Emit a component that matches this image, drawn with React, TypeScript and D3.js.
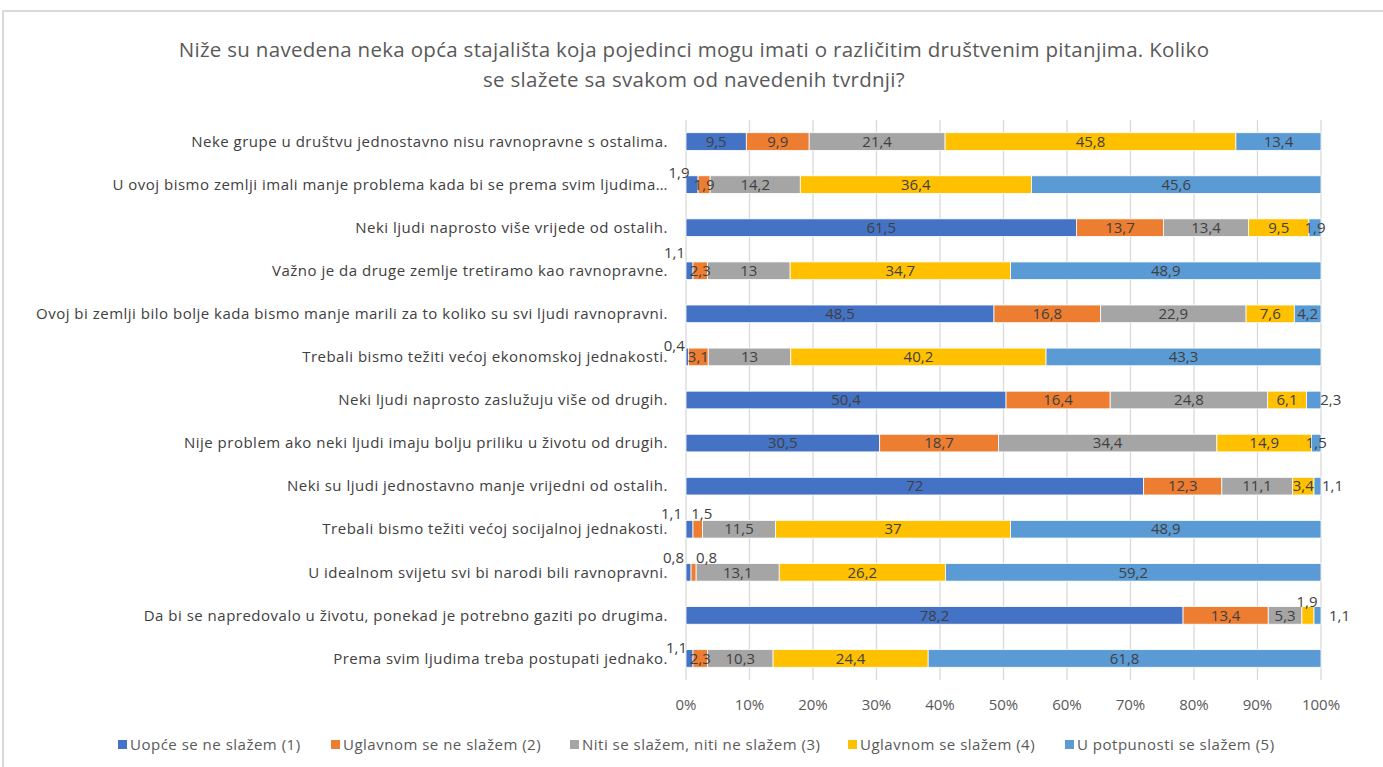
import React from "react";
import * as d3 from "d3";

const title1 = "Niže su navedena neka opća stajališta koja pojedinci mogu imati o različitim društvenim pitanjima. Koliko";
const title2 = "se slažete sa svakom od navedenih tvrdnji?";

const categories = [
  "Neke grupe u društvu jednostavno nisu ravnopravne s ostalima.",
  "U ovoj bismo zemlji imali manje problema kada bi se prema svim ljudima…",
  "Neki ljudi naprosto više vrijede od ostalih.",
  "Važno je da druge zemlje tretiramo kao ravnopravne.",
  "Ovoj bi zemlji bilo bolje kada bismo manje marili za to koliko su svi ljudi ravnopravni.",
  "Trebali bismo težiti većoj ekonomskoj jednakosti.",
  "Neki ljudi naprosto zaslužuju više od drugih.",
  "Nije problem ako neki ljudi imaju bolju priliku u životu od drugih.",
  "Neki su ljudi jednostavno manje vrijedni od ostalih.",
  "Trebali bismo težiti većoj socijalnoj jednakosti.",
  "U idealnom svijetu svi bi narodi bili ravnopravni.",
  "Da bi se napredovalo u životu, ponekad je potrebno gaziti po drugima.",
  "Prema svim ljudima treba postupati jednako.",
];

const seriesNames = [
  "Uopće se ne slažem (1)",
  "Uglavnom se ne slažem (2)",
  "Niti se slažem, niti ne slažem (3)",
  "Uglavnom se slažem (4)",
  "U potpunosti se slažem (5)",
];

const s1 = [9.5, 1.9, 61.5, 1.1, 48.5, 0.4, 50.4, 30.5, 72, 1.1, 0.8, 78.2, 1.1];
const s2 = [9.9, 1.9, 13.7, 2.3, 16.8, 3.1, 16.4, 18.7, 12.3, 1.5, 0.8, 13.4, 2.3];
const s3 = [21.4, 14.2, 13.4, 13, 22.9, 13, 24.8, 34.4, 11.1, 11.5, 13.1, 5.3, 10.3];
const s4 = [45.8, 36.4, 9.5, 34.7, 7.6, 40.2, 6.1, 14.9, 3.4, 37, 26.2, 1.9, 24.4];
const s5 = [13.4, 45.6, 1.9, 48.9, 4.2, 43.3, 2.3, 1.5, 1.1, 48.9, 59.2, 1.1, 61.8];

const xTicks = [0, 0.1, 0.2, 0.3, 0.4, 0.5, 0.6, 0.7, 0.8, 0.9, 1];

const colors = ["#4472C4", "#ED7D31", "#A5A5A5", "#FFC000", "#5B9BD5"];

// manual label nudges (row-series): [dx, dy]
const labelNudge: Record<string, [number, number]> = {
  "1-0": [-13, -12],
  "3-0": [-15, -18],
  "5-0": [-13, -11],
  "6-4": [17, 0],
  "8-4": [15, 0],
  "9-0": [-18, -15],
  "9-1": [4, -15],
  "10-0": [-15, -15],
  "10-1": [13, -15],
  "11-3": [-1, -14],
  "11-4": [22, 0],
  "12-0": [-13, -11],
};

const legendX = [118, 331, 570, 848, 1065];

const FONT = "'Open Sans', 'Noto Sans', sans-serif";

export default function App() {
  const W = 1383, H = 767;
  const x = d3.scaleLinear().domain([0, 1]).range([686, 1321]);
  const y = d3.scaleBand<number>().domain(d3.range(categories.length)).range([120, 680]).paddingInner(0.59).paddingOuter(0.295);
  const series = [s1, s2, s3, s4, s5];
  const rows = categories.map((c, i) => {
    const vals = series.map((s) => s[i]);
    const total = d3.sum(vals);
    let acc = 0;
    return vals.map((v, k) => {
      const x0 = acc / total;
      acc += v;
      const x1 = acc / total;
      return { v, k, x0, x1 };
    });
  });
  const fmt = (v: number) => String(v).replace(".", ",");
  const textCol = "#404040";
  const fs = 15;
  const ls = 0.5;

  return (
    <svg width={W} height={H} style={{ position: "absolute", left: 0, top: 0, background: "#fff" }} fontFamily={FONT}>
      <rect x={3} y={11} width={W + 10} height={H + 10} fill="#fff" stroke="#d9d9d9" strokeWidth={2} />
      <text x={694} y={57} textAnchor="middle" fontSize={20.5} letterSpacing={0.3} fill="#595959">{title1}</text>
      <text x={694} y={87} textAnchor="middle" fontSize={20.5} letterSpacing={0.3} fill="#595959">{title2}</text>

      {xTicks.map((t) => (
        <line key={"g" + t} x1={x(t)} x2={x(t)} y1={120} y2={680} stroke="#d9d9d9" strokeWidth={1.3} />
      ))}
      {xTicks.map((t) => (
        <text key={"t" + t} x={x(t)} y={705} dy="0.35em" textAnchor="middle" fontSize={fs} fill="#595959">{d3.format(".0%")(t)}</text>
      ))}

      {categories.map((c, i) => (
        <text key={"c" + i} x={668} y={(y(i) as number) + y.bandwidth() / 2} dy="0.35em" textAnchor="end" fontSize={fs} letterSpacing={ls} fill={textCol}>{c}</text>
      ))}

      {rows.map((r, i) => (
        <g key={"r" + i}>
          {r.map((s) => (
            <rect key={s.k} x={x(s.x0)} width={x(s.x1) - x(s.x0)} y={y(i)} height={y.bandwidth()} fill={colors[s.k]} stroke="#fff" strokeWidth={0.8} />
          ))}
        </g>
      ))}
      {rows.map((r, i) => (
        <g key={"l" + i}>
          {r.map((s) => {
            const n = labelNudge[i + "-" + s.k] || [0, 0];
            return (
              <text key={s.k} x={(x(s.x0) + x(s.x1)) / 2 + n[0]} y={(y(i) as number) + y.bandwidth() / 2 + n[1]} dy="0.35em" textAnchor="middle" fontSize={fs} fill={textCol}>{fmt(s.v)}</text>
            );
          })}
        </g>
      ))}

      {seriesNames.map((n, k) => (
        <g key={"lg" + k}>
          <rect x={legendX[k]} y={740} width={9} height={9} fill={colors[k]} />
          <text x={legendX[k] + 12} y={745} dy="0.35em" fontSize={fs} letterSpacing={ls} fill="#595959">{n}</text>
        </g>
      ))}
    </svg>
  );
}
